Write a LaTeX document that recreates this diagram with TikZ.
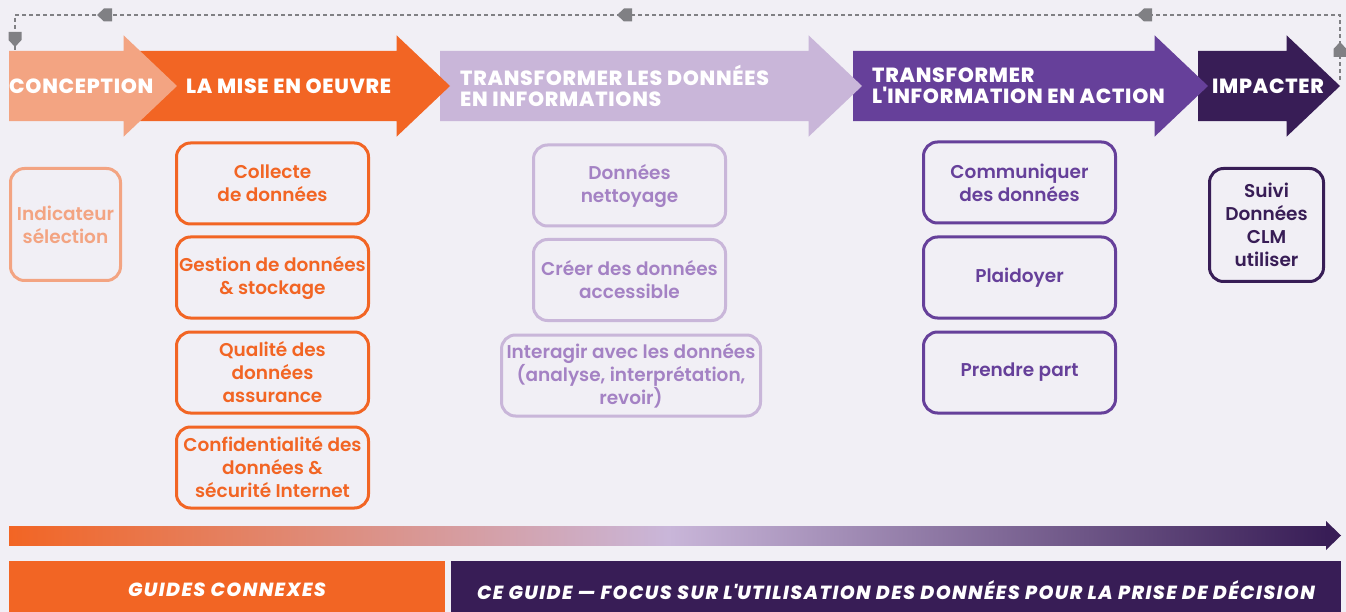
\documentclass[tikz,border=0pt]{standalone}
\usepackage{fontspec}
\setmainfont{Poppins}
\newfontfamily\headfont{Poppins ExtraBold}[LetterSpace=3.5]
\newfontfamily\boxfont{Poppins SemiBold}
\newfontfamily\bandfont{Poppins ExtraBold Italic}[LetterSpace=7.5]
\usepackage{xcolor}
\usepackage{tikz}
\usetikzlibrary{shapes.arrows,decorations.markings}
\definecolor{bgcol}{RGB}{241,239,245}
\definecolor{peach}{RGB}{243,164,130}
\definecolor{myorange}{RGB}{242,101,36}
\definecolor{lilac}{RGB}{201,182,217}
\definecolor{lilactext}{RGB}{164,130,196}
\definecolor{myviolet}{RGB}{102,64,154}
\definecolor{aubergine}{RGB}{56,29,86}
\definecolor{loopgray}{RGB}{128,128,132}
\newcommand{\loophead}{\fill[loopgray] (0,0) -- (-7,6.5) -- (-15,6.5) -- (-15,-6.5) -- (-7,-6.5) -- cycle;}
\tikzset{
    myphase/.style={single arrow, single arrow head extend=15.5pt, single arrow tip angle=87, single arrow head indent=0pt, inner xsep=0pt, inner ysep=35pt, outer sep=0pt, anchor=tail, draw=none},
    mytitle/.style={text=white, anchor=west, align=left, inner sep=0pt, font=\headfont\fontsize{20.5}{21}\selectfont},
    mybox/.style={rectangle, rounded corners=14pt, line width=3pt, inner sep=0pt, align=center, font=\boxfont\fontsize{18.5}{23}\selectfont, minimum width=192pt, minimum height=81pt},
    peachbox/.style={mybox, draw=peach, text=peach},
    orangebox/.style={mybox, draw=myorange, text=myorange},
    lilacbox/.style={mybox, draw=lilac, text=lilactext},
    violetbox/.style={mybox, draw=myviolet, text=myviolet},
    darkbox/.style={mybox, draw=aubergine, text=aubergine},
    myband/.style={rectangle, inner sep=0pt, outer sep=0pt, text=white, minimum height=58pt, font=\bandfont\fontsize{19}{20}\selectfont},
    myloop/.style={draw=loopgray, line width=2pt, dash pattern=on 4pt off 3pt,
        postaction={decorate, decoration={markings,
            mark=at position 38pt with {\loophead},
            mark=at position 268pt with {\loophead},
            mark=at position 788pt with {\loophead},
            mark=at position 1308pt with {\loophead},
            mark=at position 1422pt with {\loophead}}}}
}

\begin{document}
\begin{tikzpicture}[x=1pt,y=-1pt]
    \fill[bgcol] (0,0) rectangle (1346,612);
    \useasboundingbox (0,0) rectangle (1346,612);
    \clip (0,0) rectangle (1346,612);

    \draw (1198,86) node[myphase, fill=aubergine, minimum height=142pt] (impact) {};
    \draw (853,86) node[myphase, fill=myviolet, minimum height=355pt] (action) {};
    \draw (440,86) node[myphase, fill=lilac, minimum height=422pt] (transform) {};
    \draw (140,86) node[myphase, fill=myorange, minimum height=310pt] (mise en oeuvre) {};
    \draw (9,86) node[myphase, fill=peach, minimum height=168pt] (conception) {};

    \draw (9,86) node[mytitle] (conception text) {CONCEPTION};
    \draw (186,86) node[mytitle] (mise text) {LA MISE EN OEUVRE};
    \draw (460,86) node[mytitle] (transform text) {TRANSFORMER LES DONNÉES\\EN INFORMATIONS};
    \draw (872,86) node[mytitle] (action text) {TRANSFORMER\\L\textquotesingle INFORMATION EN ACTION};
    \draw (1212,86) node[mytitle] (impact text) {IMPACTER};

    \coordinate (loop start) at (1340,80);
    \coordinate (loop end) at (15,51);
    \draw[myloop] (loop start) -- (1340,15) -| (loop end);

    \draw (65.5,224.5) node[peachbox, minimum width=110pt, minimum height=112pt] (indicateur) {Indicateur\\sélection};

    \draw (272.5,183.5) node[orangebox] (collecte) {Collecte\\de données};
    \draw (272.5,277.5) node[orangebox] (gestion) {Gestion de données\\\& stockage};
    \draw (272.5,372.5) node[orangebox] (qualite) {Qualité des\\données\\assurance};
    \draw (272.5,467.5) node[orangebox] (confidentialite) {Confidentialité des\\données \&\\sécurité Internet};

    \draw (629.5,185.5) node[lilacbox] (nettoyage) {Données\\nettoyage};
    \draw (629.5,280) node[lilacbox] (accessible) {Créer des données\\accessible};
    \draw (631,375.5) node[lilacbox, minimum width=259pt] (interagir) {Interagir avec les données\\(analyse, interprétation,\\revoir)};

    \draw (1019.5,182.5) node[violetbox] (communiquer) {Communiquer\\des données};
    \draw (1019.5,277.5) node[violetbox] (plaidoyer) {Plaidoyer};
    \draw (1019.5,372.5) node[violetbox] (prendre part) {Prendre part};

    \draw (1266.5,225) node[darkbox, minimum width=114pt, minimum height=113pt] (suivi) {Suivi\\Données\\CLM\\utiliser};

    \shade[left color=myorange, right color=aubergine, middle color=lilac] (9,526) rectangle (1327,545);
    \fill[aubergine] (1326,521) -- (1341,535.5) -- (1326,550) -- cycle;

    \draw (227,590) node[myband, fill=myorange, minimum width=436pt] (guides) {GUIDES CONNEXES};
    \draw (896,590) node[myband, fill=aubergine, minimum width=890pt] (ce guide) {CE GUIDE — FOCUS SUR L\textquotesingle UTILISATION DES DONNÉES POUR LA PRISE DE DÉCISION};
\end{tikzpicture}
\end{document}
